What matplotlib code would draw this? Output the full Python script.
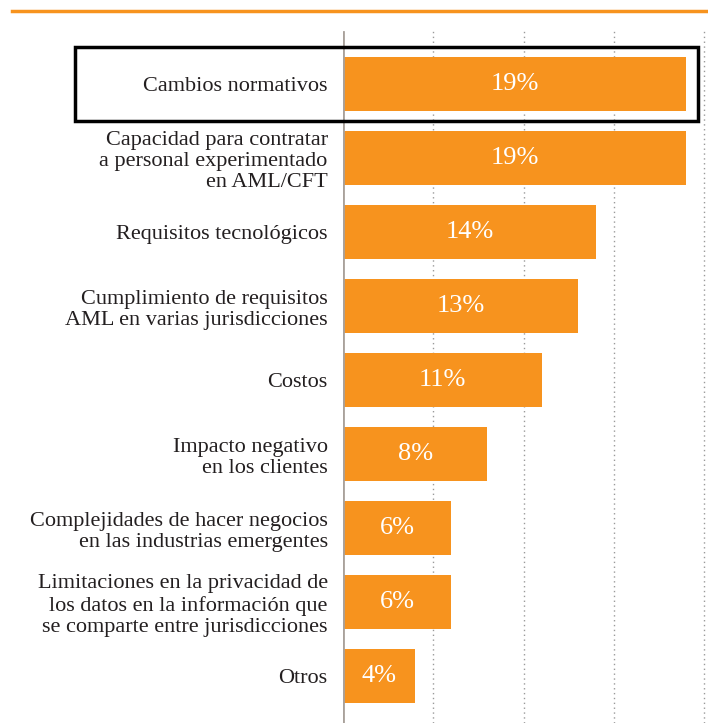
import numpy as np
import matplotlib.pyplot as plt
from matplotlib.patches import Rectangle
from matplotlib.lines import Line2D

categories = [
    "Cambios normativos",
    "Capacidad para contratar\na personal experimentado\nen AML/CFT",
    "Requisitos tecnológicos",
    "Cumplimiento de requisitos\nAML en varias jurisdicciones",
    "Costos",
    "Impacto negativo\nen los clientes",
    "Complejidades de hacer negocios\nen las industrias emergentes",
    "Limitaciones en la privacidad de\nlos datos en la información que\nse comparte entre jurisdicciones",
    "Otros",
]
values = [19, 19, 14, 13, 11, 8, 6, 6, 4]
value_labels = ["19%", "19%", "14%", "13%", "11%", "8%", "6%", "6%", "4%"]

orange = "#F7931E"
W, H = 708, 723
fig = plt.figure(figsize=(W / 100, H / 100), dpi=100)

# axes placed in pixel terms
left, right, top, bottom = 343, 708, 30, 723
ax = fig.add_axes([left / W, 1 - bottom / H, (right - left) / W, (bottom - top) / H])

y = np.arange(len(categories))
ax.barh(y, values, height=0.73, color=orange, zorder=3)
for yi, v, lab in zip(y, values, value_labels):
    ax.text(v / 2, yi, lab, ha="center", va="center", color="white",
            fontsize=19, family="Liberation Serif", zorder=4)

ax.set_xlim(0, (right - left) / 18.05)
ax.set_ylim(8.635, -0.73)

for gx in [5, 10, 15, 20]:
    ax.axvline(gx, color="#9a9a9a", lw=1, ls=(0, (1, 2.5)), zorder=1)
ax.axvline(0, ymax=1 - 2 / (bottom - top), color="#a9a19b", lw=2, zorder=5)

ax.set_yticks(y)
ax.set_yticklabels(categories, fontsize=16, family="Liberation Serif",
                   color="#231f20", linespacing=1.15)
ax.tick_params(axis="y", length=0, pad=11)
ax.set_xticks([])
for s in ax.spines.values():
    s.set_visible(False)

# orange rule at top and highlight box
fig.add_artist(Line2D([12 / W, 706 / W], [1 - 10.5 / H, 1 - 10.5 / H],
                      color=orange, lw=2.5, transform=fig.transFigure))
fig.add_artist(Rectangle((75 / W, 1 - 121 / H), (698 - 75) / W, (121 - 47) / H,
                         fill=False, ec="black", lw=2.5, transform=fig.transFigure,
                         zorder=10))

fig.savefig("out.png", dpi=100)
